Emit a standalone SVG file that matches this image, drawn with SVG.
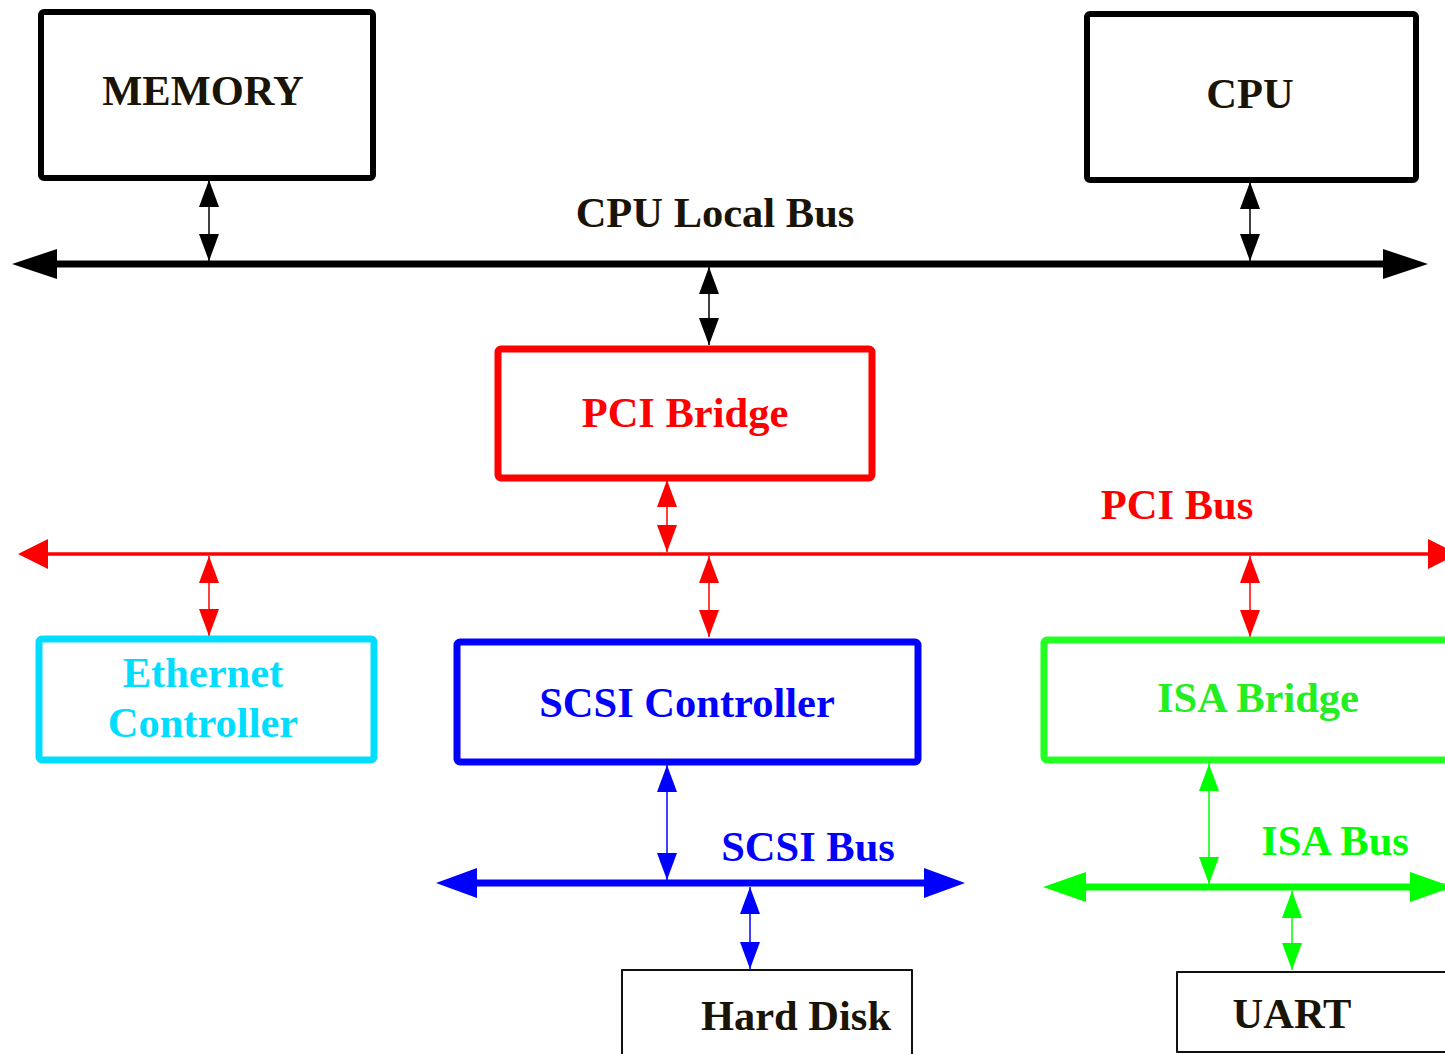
<svg xmlns="http://www.w3.org/2000/svg" width="1445" height="1054" viewBox="0 0 1445 1054">
  <style>
    .lbl { font-family: "Liberation Serif", "Times New Roman", serif; font-weight: bold; font-size: 42.5px; text-anchor: middle; }
    .dark { fill: #1a1406; }
    .box { fill: #ffffff; stroke-linejoin: round; }
    .thin { fill: none; stroke-width: 1.5; }
    .bus { fill: none; }
  </style>
  <defs>
    <!-- small heads for the short link arrows (tip at the end point) -->
    <marker id="hk" viewBox="0 0 27 20" refX="27" refY="10" markerWidth="27" markerHeight="20" markerUnits="userSpaceOnUse" orient="auto-start-reverse"><path d="M0,0 L27,10 L0,20 z" fill="#000"/></marker>
    <marker id="hr" viewBox="0 0 27 20" refX="27" refY="10" markerWidth="27" markerHeight="20" markerUnits="userSpaceOnUse" orient="auto-start-reverse"><path d="M0,0 L27,10 L0,20 z" fill="#f00"/></marker>
    <marker id="hb" viewBox="0 0 27 20" refX="27" refY="10" markerWidth="27" markerHeight="20" markerUnits="userSpaceOnUse" orient="auto-start-reverse"><path d="M0,0 L27,10 L0,20 z" fill="#00f"/></marker>
    <marker id="hg" viewBox="0 0 27 20" refX="27" refY="10" markerWidth="27" markerHeight="20" markerUnits="userSpaceOnUse" orient="auto-start-reverse"><path d="M0,0 L27,10 L0,20 z" fill="#0f0"/></marker>
    <!-- large heads for the buses (base at the end point) -->
    <marker id="bk" viewBox="0 0 45 30" refX="0" refY="15" markerWidth="45" markerHeight="30" markerUnits="userSpaceOnUse" orient="auto-start-reverse"><path d="M0,0 L45,15 L0,30 z" fill="#000"/></marker>
    <marker id="br" viewBox="0 0 30 30" refX="0" refY="15" markerWidth="30" markerHeight="30" markerUnits="userSpaceOnUse" orient="auto-start-reverse"><path d="M0,0 L30,15 L0,30 z" fill="#f00"/></marker>
    <marker id="bb" viewBox="0 0 41 30" refX="0" refY="15" markerWidth="41" markerHeight="30" markerUnits="userSpaceOnUse" orient="auto-start-reverse"><path d="M0,0 L41,15 L0,30 z" fill="#00f"/></marker>
    <marker id="bg" viewBox="0 0 43 30" refX="0" refY="15" markerWidth="43" markerHeight="30" markerUnits="userSpaceOnUse" orient="auto-start-reverse"><path d="M0,0 L43,15 L0,30 z" fill="#0f0"/></marker>
  </defs>

  <rect width="1445" height="1054" fill="#ffffff"/>

  <g id="connectors">
    <!-- buses -->
    <path class="bus" d="M57,264 H1383" stroke="#000" stroke-width="7" marker-start="url(#bk)" marker-end="url(#bk)"/>
    <path class="bus" d="M48,554 H1428" stroke="#f00" stroke-width="3.5" marker-start="url(#br)" marker-end="url(#br)"/>
    <path class="bus" d="M477,883 H924" stroke="#00f" stroke-width="7" marker-start="url(#bb)" marker-end="url(#bb)"/>
    <path class="bus" d="M1086,887 H1460" stroke="#0f0" stroke-width="7" marker-start="url(#bg)"/>
    <path d="M1410,872 L1453,887 L1410,902 z" fill="#0f0"/>
    <!-- links -->
    <path class="thin" d="M209,180 V261" stroke="#000" marker-start="url(#hk)" marker-end="url(#hk)"/>
    <path class="thin" d="M1250,182 V261" stroke="#000" marker-start="url(#hk)" marker-end="url(#hk)"/>
    <path class="thin" d="M709,267 V345" stroke="#000" marker-start="url(#hk)" marker-end="url(#hk)"/>
    <path class="thin" d="M667,480 V552" stroke="#f00" marker-start="url(#hr)" marker-end="url(#hr)"/>
    <path class="thin" d="M209,556 V636" stroke="#f00" marker-start="url(#hr)" marker-end="url(#hr)"/>
    <path class="thin" d="M709,556 V637" stroke="#f00" marker-start="url(#hr)" marker-end="url(#hr)"/>
    <path class="thin" d="M1250,556 V637" stroke="#f00" marker-start="url(#hr)" marker-end="url(#hr)"/>
    <path class="thin" d="M667,765 V880" stroke="#00f" marker-start="url(#hb)" marker-end="url(#hb)"/>
    <path class="thin" d="M750,887 V969" stroke="#00f" marker-start="url(#hb)" marker-end="url(#hb)"/>
    <path class="thin" d="M1209,764 V884" stroke="#0f0" marker-start="url(#hg)" marker-end="url(#hg)"/>
    <path class="thin" d="M1292,891 V970" stroke="#0f0" marker-start="url(#hg)" marker-end="url(#hg)"/>
  </g>

  <g id="memory">
    <rect class="box" x="41" y="12" width="332" height="166" rx="3" stroke="#000" stroke-width="6"/>
    <text class="lbl dark" x="203" y="105">MEMORY</text>
  </g>
  <g id="cpu">
    <rect class="box" x="1087" y="14" width="329" height="166" rx="3" stroke="#000" stroke-width="6"/>
    <text class="lbl dark" x="1250" y="108">CPU</text>
  </g>
  <g id="cpu-local-bus-label">
    <text class="lbl dark" x="715" y="227">CPU Local Bus</text>
  </g>
  <g id="pci-bridge">
    <rect class="box" x="498" y="349" width="374" height="129" rx="3" stroke="#f00" stroke-width="7"/>
    <text class="lbl" x="685" y="427" fill="#f00">PCI Bridge</text>
  </g>
  <g id="pci-bus-label">
    <text class="lbl" x="1177" y="519" fill="#f00">PCI Bus</text>
  </g>
  <g id="ethernet-controller">
    <rect class="box" x="39" y="639" width="335" height="121" rx="3" stroke="#00ddff" stroke-width="7"/>
    <text class="lbl" x="203" y="687" fill="#00ddff">Ethernet</text>
    <text class="lbl" x="203" y="737" fill="#00ddff">Controller</text>
  </g>
  <g id="scsi-controller">
    <rect class="box" x="457" y="642" width="461" height="120" rx="3" stroke="#00f" stroke-width="7"/>
    <text class="lbl" x="687" y="717" fill="#00f">SCSI Controller</text>
  </g>
  <g id="isa-bridge">
    <rect class="box" x="1044" y="640" width="420" height="120" rx="3" stroke="#22ff22" stroke-width="7"/>
    <text class="lbl" x="1258" y="712" fill="#22ee22">ISA Bridge</text>
  </g>
  <g id="scsi-bus-label">
    <text class="lbl" x="808" y="861" fill="#00f">SCSI Bus</text>
  </g>
  <g id="isa-bus-label">
    <text class="lbl" x="1335" y="855" fill="#00ff00">ISA Bus</text>
  </g>
  <g id="hard-disk">
    <rect class="box" x="622" y="970" width="290" height="100" stroke="#111" stroke-width="2"/>
    <text class="lbl dark" x="796" y="1030">Hard Disk</text>
  </g>
  <g id="uart">
    <rect class="box" x="1177" y="972" width="290" height="80" stroke="#111" stroke-width="2"/>
    <text class="lbl dark" x="1292" y="1028">UART</text>
  </g>
</svg>
